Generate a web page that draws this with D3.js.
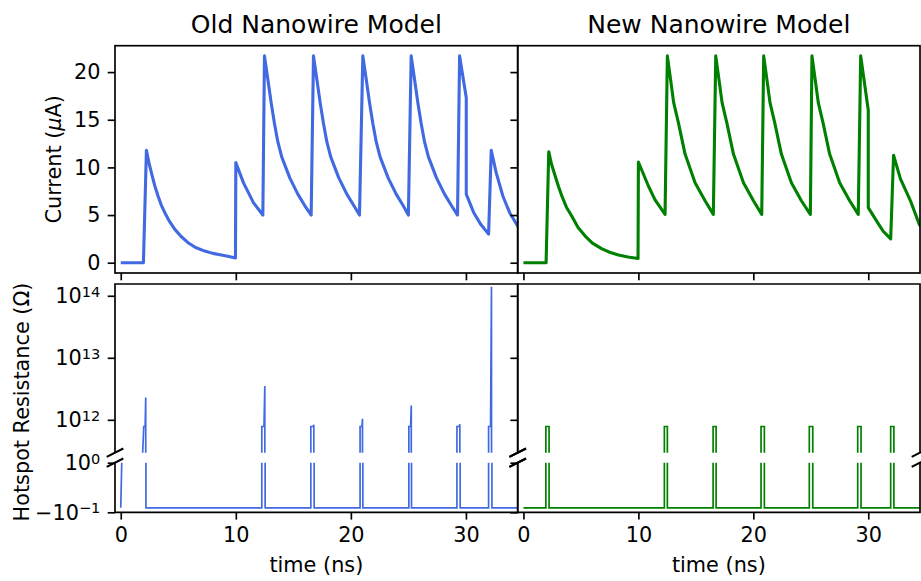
<!DOCTYPE html>
<html>
<head>
<meta charset="utf-8">
<script src="https://cdn.jsdelivr.net/npm/d3@7"></script>
<style>
  body { margin: 0; background: #fff; }
  svg { display: block; font-family: "DejaVu Sans", sans-serif; }
</style>
</head>
<body>
<div id="chart"></div>
<script>
// ---- data ----
const modelTitles = ["Old Nanowire Model", "New Nanowire Model"];
const modelColors = ["#4169E1", "#008000"];

const timeTicks = [0, 10, 20, 30];
const currentTicks = [0, 5, 10, 15, 20];
const resHighTicks = [1e12, 1e13, 1e14];
const resHighLabels = [["10", "12"], ["10", "13"], ["10", "14"]];
const resLowTicks = [1, -0.1];
const resLowLabels = [["10", "0"], ["\u221210", "\u22121"]];

// Old model: current (uA) vs time (ns)
const oldTime = [0, 1.97, 2.23, 2.45, 2.66, 2.95, 3.24, 3.52, 3.83, 4.25, 4.7, 5.25, 5.85, 6.5, 7.3, 8.0, 8.75, 9.3, 9.97,
  10.0, 10.66, 11.53, 12.35,
  12.49, 12.79, 13.07, 13.36, 13.65, 13.99, 14.69, 15.39, 15.99, 16.55,
  16.75, 17.05, 17.33, 17.62, 17.91, 18.25, 18.95, 19.65, 20.25, 20.75,
  21.04, 21.34, 21.62, 21.91, 22.2, 22.54, 23.24, 23.94, 24.54, 25.0,
  25.24, 25.54, 25.82, 26.11, 26.4, 26.74, 27.44, 28.14, 28.74, 29.27,
  29.45, 30.03, 30.03, 30.66, 31.3, 31.97,
  32.2, 32.63, 33.21, 33.8, 34.67, 35];
const oldCurrent = [0, 0, 11.8, 10.5, 9.45, 8.1, 7.0, 6.05, 5.25, 4.3, 3.5, 2.75, 2.1, 1.6, 1.22, 0.98, 0.8, 0.68, 0.5,
  10.5, 8.4, 6.3, 5.0,
  21.7, 19.2, 16.8, 14.6, 12.7, 11.1, 8.9, 7.2, 6.0, 5.0,
  21.7, 19.2, 16.8, 14.6, 12.7, 11.1, 8.9, 7.2, 6.0, 5.0,
  21.7, 19.2, 16.8, 14.6, 12.7, 11.1, 8.9, 7.2, 6.0, 5.0,
  21.7, 19.2, 16.8, 14.6, 12.7, 11.1, 8.9, 7.2, 6.0, 5.0,
  21.7, 17.3, 7.2, 5.3, 4.0, 3.0,
  11.8, 9.45, 7.0, 5.25, 3.5, 3.1];

// New model: current (uA) vs time (ns)
const newTime = [0, 1.97, 2.2, 2.45, 2.76, 3.05, 3.34, 3.75, 4.2, 4.75, 5.37, 6.0, 6.8, 7.5, 8.26, 9.1, 9.97,
  10.0, 10.87, 11.45, 12.32,
  12.52, 12.77, 13.07, 13.48, 14.06, 14.93, 15.8, 16.52,
  16.73, 16.98, 17.28, 17.69, 18.27, 19.14, 20.01, 20.73,
  20.9, 21.15, 21.45, 21.86, 22.44, 23.31, 24.18, 24.96,
  25.1, 25.35, 25.65, 26.06, 26.64, 27.51, 28.38, 29.13,
  29.34, 30.0, 30.0, 30.73, 31.3, 31.95,
  32.2, 32.8, 33.7, 34.45, 35];
const newCurrent = [0, 0, 11.65, 10.3, 9.1, 8.0, 7.0, 5.8, 4.9, 3.7, 2.8, 2.05, 1.47, 1.1, 0.8, 0.6, 0.45,
  10.57, 8.05, 6.6, 5.07,
  21.7, 19.5, 16.8, 14.7, 11.4, 8.4, 6.5, 5.07,
  21.7, 19.5, 16.8, 14.7, 11.4, 8.4, 6.5, 5.07,
  21.7, 19.5, 16.8, 14.7, 11.4, 8.4, 6.5, 5.07,
  21.7, 19.5, 16.8, 14.7, 11.4, 8.4, 6.5, 5.07,
  21.7, 16.0, 5.78, 4.37, 3.3, 2.5,
  11.27, 8.8, 6.4, 4.0, 3.3];

// Old model: hotspot resistance (ohm) vs time (ns)
const oldResTime = [0, 0.1, 1.8, 2.0, 2.12, 2.17, 2.19,
  12.26, 12.26, 12.45, 12.52, 12.55,
  16.52, 16.52, 16.72, 16.78, 16.81,
  20.8, 20.8, 20.96, 21.01, 21.04,
  25.04, 25.04, 25.19, 25.25, 25.27,
  29.22, 29.22, 29.42, 29.47, 29.5,
  31.97, 31.97, 32.14, 32.22, 32.26, 35];
const oldRes = [0, 1.15, 1e11, 7.8e11, 7.8e11, 2.3e12, 0,
  0, 7.8e11, 7.8e11, 3.5e12, 0,
  0, 7.8e11, 7.8e11, 8.3e11, 0,
  0, 7.8e11, 7.8e11, 1.04e12, 0,
  0, 7.8e11, 7.8e11, 1.7e12, 0,
  0, 7.8e11, 7.8e11, 8.5e11, 0,
  0, 7.8e11, 7.8e11, 1.4e14, 0, 0];

// New model: hotspot resistance (ohm) vs time (ns)
const newResTime = [0, 1.95, 1.95, 2.23, 2.23,
  12.26, 12.26, 12.52, 12.52,
  16.5, 16.5, 16.76, 16.76,
  20.67, 20.67, 20.96, 20.96,
  24.87, 24.87, 25.17, 25.17,
  29.08, 29.08, 29.37, 29.37,
  31.95, 31.95, 32.23, 32.23, 35];
const newRes = [0, 0, 7.8e11, 7.8e11, 0,
  0, 7.8e11, 7.8e11, 0,
  0, 7.8e11, 7.8e11, 0,
  0, 7.8e11, 7.8e11, 0,
  0, 7.8e11, 7.8e11, 0,
  0, 7.8e11, 7.8e11, 0,
  0, 7.8e11, 7.8e11, 0, 0];

const timeDomain = [-0.5, 34.5];
const currentDomain = [-1.08, 22.77];
const resHighDomain = [Math.pow(10, 11.47), Math.pow(10, 14.19)];
const resLowDomain = [-0.1, 1];

// ---- layout (pixels) ----
const W = 921, H = 581;
const cols = [{ x0: 115, x1: 517.7 }, { x0: 517.7, x1: 920 }];
const rowTop = { y0: 45.7, y1: 273 };
const rowHigh = { y0: 284, y1: 452.7 };
const rowLow = { y0: 462.7, y1: 512.3 };
const TICK = 7.3, PAD = 7.3, FS = 20.8;

const svg = d3.select("#chart").append("svg")
  .attr("width", W).attr("height", H);
const defs = svg.append("defs");

const seriesTop = [
  d3.zip(oldTime, oldCurrent).map(([t, v]) => ({ t, v })),
  d3.zip(newTime, newCurrent).map(([t, v]) => ({ t, v }))
];
const seriesRes = [
  d3.zip(oldResTime, oldRes).map(([t, v]) => ({ t, v })),
  d3.zip(newResTime, newRes).map(([t, v]) => ({ t, v }))
];

function clip(id, x0, y0, x1, y1) {
  defs.append("clipPath").attr("id", id)
    .append("rect").attr("x", x0).attr("y", y0)
    .attr("width", x1 - x0).attr("height", y1 - y0);
  return `url(#${id})`;
}

function styleAxis(g) {
  g.select(".domain").remove();
  g.selectAll(".tick line").attr("stroke", "#000").attr("stroke-width", 1.67);
  g.selectAll(".tick text")
    .attr("font-family", "DejaVu Sans, sans-serif")
    .attr("font-size", FS)
    .attr("fill", "#000");
  g.attr("font-family", null).attr("font-size", null);
}

function breakMark(g, cx, cy) {
  g.append("line")
    .attr("x1", cx - 8.3).attr("y1", cy + 4.2)
    .attr("x2", cx + 8.3).attr("y2", cy - 4.2)
    .attr("stroke", "#000").attr("stroke-width", 2.1);
}

cols.forEach((c, i) => {
  const x = d3.scaleLinear().domain(timeDomain).range([c.x0, c.x1]);
  const yCur = d3.scaleLinear().domain(currentDomain).range([rowTop.y1, rowTop.y0]);
  const yHi = d3.scaleLog().domain(resHighDomain).range([rowHigh.y1, rowHigh.y0]);
  const yLo = d3.scaleLinear().domain(resLowDomain).range([rowLow.y1, rowLow.y0]);

  // 1. Current line (top)
  svg.append("path")
    .datum(seriesTop[i])
    .attr("clip-path", clip("ct" + i, c.x0, rowTop.y0, c.x1, rowTop.y1))
    .attr("fill", "none")
    .attr("stroke", modelColors[i])
    .attr("stroke-width", 3.1)
    .attr("stroke-linejoin", "round")
    .attr("d", d3.line().x(d => x(d.t)).y(d => yCur(d.v)));

  // 2. Resistance (broken axis: log part above, linear part below)
  svg.append("path")
    .datum(seriesRes[i])
    .attr("clip-path", clip("ch" + i, c.x0, rowHigh.y0, c.x1, rowHigh.y1))
    .attr("fill", "none")
    .attr("stroke", modelColors[i])
    .attr("stroke-width", 1.7)
    .attr("d", d3.line().x(d => x(d.t)).y(d => yHi(d.v > 0 ? d.v : 1e-3)));

  svg.append("path")
    .datum(seriesRes[i])
    .attr("clip-path", clip("cl" + i, c.x0, rowLow.y0, c.x1, rowLow.y1))
    .attr("fill", "none")
    .attr("stroke", modelColors[i])
    .attr("stroke-width", 1.7)
    .attr("d", d3.line().x(d => x(d.t)).y(d => yLo(Math.min(d.v, 1e4))));

  // 3. Axes ticks
  svg.append("g")
    .attr("transform", `translate(0,${rowTop.y1})`)
    .call(d3.axisBottom(x).tickValues(timeTicks).tickSize(TICK).tickFormat(""))
    .call(styleAxis);

  svg.append("g")
    .attr("transform", `translate(0,${rowLow.y1})`)
    .call(d3.axisBottom(x).tickValues(timeTicks).tickSize(TICK).tickPadding(PAD))
    .call(styleAxis);

  svg.append("g")
    .attr("transform", `translate(${c.x0},0)`)
    .call(d3.axisLeft(yCur).tickValues(currentTicks).tickSize(TICK).tickPadding(PAD)
      .tickFormat(i === 0 ? d3.format("d") : ""))
    .call(styleAxis);

  svg.append("g")
    .attr("transform", `translate(${c.x0},0)`)
    .call(d3.axisLeft(yHi).tickValues(resHighTicks).tickSize(TICK).tickFormat(""))
    .call(styleAxis);

  svg.append("g")
    .attr("transform", `translate(${c.x0},0)`)
    .call(d3.axisLeft(yLo).tickValues(resLowTicks).tickSize(TICK).tickFormat(""))
    .call(styleAxis);

  if (i === 0) {
    const powLabel = (sel, scale, ticks, labels) => {
      sel.selectAll(null).data(ticks).enter().append("text")
        .attr("x", c.x0 - TICK - PAD)
        .attr("y", d => scale(d) + 7.4)
        .attr("text-anchor", "end")
        .attr("font-size", FS)
        .each(function (d, k) {
          const t = d3.select(this);
          t.append("tspan").text(labels[k][0]);
          t.append("tspan").attr("font-size", 14.6).attr("dy", -6.5).text(labels[k][1]);
        });
    };
    powLabel(svg.append("g"), yHi, resHighTicks, resHighLabels);
    powLabel(svg.append("g"), yLo, resLowTicks, resLowLabels);
  }

  // 4. Frames
  const frame = svg.append("g").attr("fill", "none").attr("stroke", "#000").attr("stroke-width", 1.67);
  frame.append("rect")
    .attr("x", c.x0).attr("y", rowTop.y0)
    .attr("width", c.x1 - c.x0).attr("height", rowTop.y1 - rowTop.y0);
  frame.append("path")
    .attr("d", `M${c.x0},${rowHigh.y1}V${rowHigh.y0}H${c.x1}V${rowHigh.y1}`);
  frame.append("path")
    .attr("d", `M${c.x0},${rowLow.y0}V${rowLow.y1}H${c.x1}V${rowLow.y0}`);

  // break marks on both spines
  [c.x0, c.x1].forEach(bx => {
    breakMark(svg, bx, rowHigh.y1);
    breakMark(svg, bx, rowLow.y0);
  });

  // 5. Titles and x labels
  const cx = (c.x0 + c.x1) / 2;
  svg.append("text")
    .attr("x", cx).attr("y", 33.2)
    .attr("text-anchor", "middle")
    .attr("font-size", 25)
    .text(modelTitles[i]);

  svg.append("text")
    .attr("x", cx).attr("y", 572)
    .attr("text-anchor", "middle")
    .attr("font-size", FS)
    .text("time (ns)");
});

// 6. Y labels
const curLabel = svg.append("text")
  .attr("transform", `translate(61,${(rowTop.y0 + rowTop.y1) / 2}) rotate(-90)`)
  .attr("text-anchor", "middle")
  .attr("font-size", FS);
curLabel.append("tspan").text("Current (");
curLabel.append("tspan").attr("font-style", "italic").text("\u03bc");
curLabel.append("tspan").text("A)");

svg.append("text")
  .attr("transform", `translate(28.5,402) rotate(-90)`)
  .attr("text-anchor", "middle")
  .attr("font-size", FS)
  .text("Hotspot Resistance (\u03a9)");
</script>
</body>
</html>
